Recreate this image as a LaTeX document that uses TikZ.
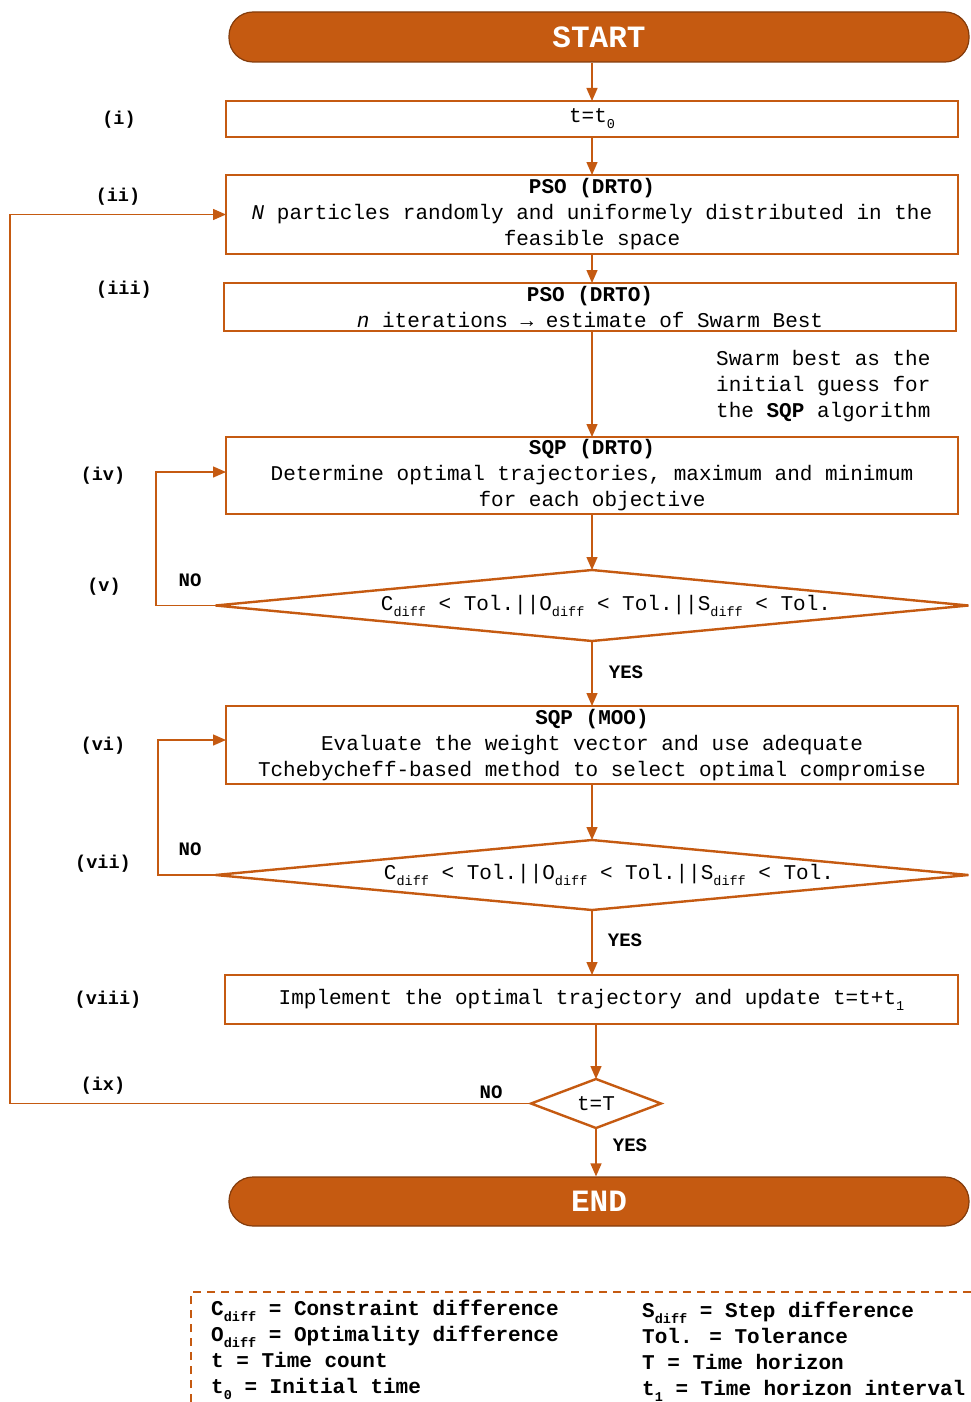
\documentclass[tikz,border=0pt]{standalone}
\usepackage{fontspec}
\setmainfont{Liberation Mono}
\usetikzlibrary{shapes.geometric,arrows.meta}
\definecolor{orng}{RGB}{197,90,17}
\definecolor{orngd}{RGB}{132,60,12}
\newcommand\sbs[1]{\raisebox{-0.28em}{\fontsize{13.5}{13.5}\selectfont #1}}
\newcommand\tf{\fontsize{21}{26}\selectfont}
\begin{document}
\begin{tikzpicture}[x=1pt,y=-1pt,
 box/.style={draw=orng, line width=2.4pt, fill=white, minimum width=732pt, inner sep=0pt, outer sep=0pt, align=center, font=\tf},
 term/.style={draw=orngd, line width=1.2pt, fill=orng, rounded corners=24pt, minimum width=740pt, minimum height=50pt, inner sep=0pt, text=white, font=\fontsize{31}{31}\selectfont\bfseries},
 dia/.style={draw=orng, line width=2.4pt, diamond, inner sep=0pt, outer sep=0pt, fill=white},
 arr/.style={draw=orng, line width=1.4pt, -{Triangle[length=13pt,width=11pt]}},
 lbl/.style={font=\fontsize{18.5}{20}\selectfont\bfseries},
 yn/.style={font=\fontsize{19}{20}\selectfont\bfseries},
 txt/.style={font=\tf, inner sep=0pt},
]
\useasboundingbox (0,0) rectangle (971,1402);

% terminals
\node[term] (start) at (599,37) {START};
\node[term, minimum height=49pt] (end) at (599,1201.5) {END};

% boxes
\node[box, minimum height=36pt] (i) at (592,119) {t=t\sbs{0}};
\node[box, minimum height=79pt] (ii) at (592,214.5) {\textbf{PSO (DRTO)}\\\textit{N} particles randomly and uniformely distributed in the\\feasible space};
\node[box, minimum height=48pt] (iii) at (590,307) {\textbf{PSO (DRTO)}\\\textit{n} iterations → estimate of Swarm Best};
\node[box, minimum height=77pt] (iv) at (592,475.5) {\textbf{SQP (DRTO)}\\Determine optimal trajectories, maximum and minimum\\for each objective};
\node[box, minimum height=78pt] (vi) at (592,745) {\textbf{SQP (MOO)}\\Evaluate the weight vector and use adequate\\Tchebycheff-based method to select optimal compromise};
\node[box, minimum width=733pt, minimum height=49pt] (viii) at (591.5,999.5) {Implement the optimal trajectory and update t=t+t\sbs{1}};

% diamonds
\node[dia, minimum width=753pt, minimum height=71pt] (v) at (592,605.5) {};
\node[txt] (vt) at (606,606) {C\sbs{diff} < Tol.||O\sbs{diff} < Tol.||S\sbs{diff} < Tol.};
\node[dia, minimum width=753pt, minimum height=70pt] (vii) at (592,875) {};
\node[txt] (viit) at (609,875) {C\sbs{diff} < Tol.||O\sbs{diff} < Tol.||S\sbs{diff} < Tol.};
\node[dia, minimum width=130pt, minimum height=49pt] (ix) at (596,1103.5) {};
\node[txt] (ixt) at (596,1104) {t=T};

% side note
\node[txt, anchor=west, align=left] (note) at (716,386) {Swarm best as the\\initial guess for\\the \textbf{SQP} algorithm};

% step labels
\node[lbl] (li) at (119,120) {(i)};
\node[lbl] (lii) at (118,197) {(ii)};
\node[lbl] (liii) at (124,290) {(iii)};
\node[lbl] (liv) at (103,476) {(iv)};
\node[lbl] (lv) at (104,587) {(v)};
\node[lbl] (lvi) at (103,746) {(vi)};
\node[lbl] (lvii) at (103,864) {(vii)};
\node[lbl] (lviii) at (108,1000) {(viii)};
\node[lbl] (lix) at (103,1086) {(ix)};

% yes / no
\node[yn] (no1) at (190,580) {NO};
\node[yn] (no2) at (190,849) {NO};
\node[yn] (no3) at (491,1092) {NO};
\node[yn] (yes1) at (626,672) {YES};
\node[yn] (yes2) at (625,940) {YES};
\node[yn] (yes3) at (630,1145) {YES};

% connectors
\draw[arr] (start.south -| i.north) -- (i.north);
\draw[arr] (i.south) -- (ii.north);
\draw[arr] (ii.south) -- (ii.south |- iii.north);
\draw[arr] (iii.south -| iv.north) -- (iv.north);
\draw[arr] (iv.south) -- (v.north);
\draw[arr] (v.south) -- (vi.north);
\draw[arr] (vi.south) -- (vii.north);
\draw[arr] (vii.south) -- (vii.south |- viii.north);
\draw[arr] (viii.south -| ix.north) -- (ix.north);
\draw[arr] (ix.south) -- (ix.south |- end.north);

\coordinate (c5) at (156,605.5);
\coordinate (c7) at (158,875);
\coordinate (c9) at (10,1103.5);
\draw[arr] (v.west) -- (c5) |- ([yshift=3.5pt]iv.west);
\draw[arr] (vii.west) -- (c7) |- ([yshift=5pt]vi.west);
\draw[arr] (ix.west) -- (c9) |- (ii.west);

% legend
\coordinate (lg1) at (191,1402);
\coordinate (lg2) at (191,1292);
\coordinate (lg3) at (971,1292);
\draw[orng, line width=1.8pt, dash pattern=on 8pt off 6pt] (lg1) -- (lg2) -- (lg3);
\node[txt, anchor=west, align=left, font=\tf\bfseries] (leg1) at (211,1350) {C\sbs{diff} = Constraint difference\\O\sbs{diff} = Optimality difference\\t = Time count\\t\sbs{0} = Initial time};
\node[txt, anchor=west, align=left, font=\tf\bfseries] (leg2) at (642,1351.5) {S\sbs{diff} = Step difference\\Tol. = Tolerance\\T = Time horizon\\t\sbs{1} = Time horizon interval};
\end{tikzpicture}
\end{document}
